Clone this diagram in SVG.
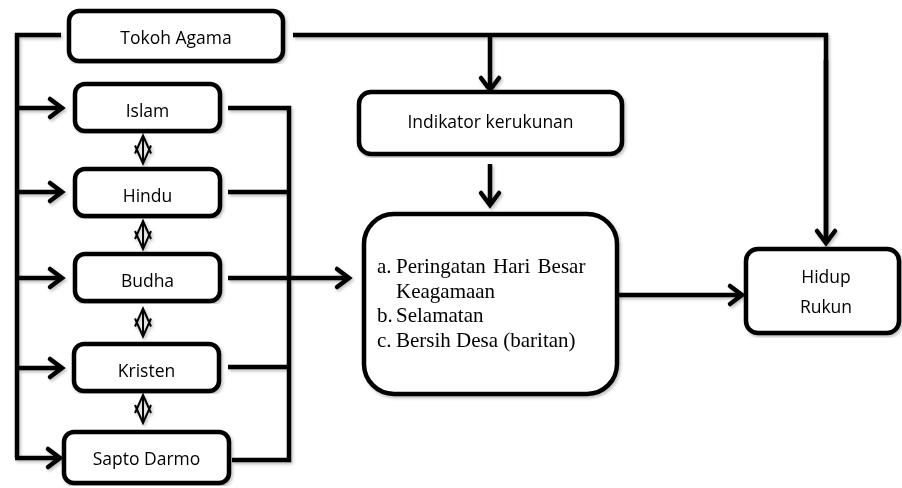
<svg xmlns="http://www.w3.org/2000/svg" width="902" height="488" viewBox="0 0 902 488">
  <defs>
    <style>
      .box { fill: #ffffff; stroke: #000000; stroke-width: 4.5; }
      .line { fill: none; stroke: #000000; stroke-width: 4.5; stroke-linecap: butt; stroke-linejoin: miter; }
      .arrow { marker-end: url(#head); }
      .lbl { font-family: "Open Sans", "Noto Sans", "Liberation Sans", sans-serif; font-size: 17.5px; fill: #000000; text-anchor: middle; }
      .serif { font-family: "Liberation Serif", "Times New Roman", serif; font-size: 21px; fill: #000000; }
      .dbl { fill: none; stroke: #000000; stroke-width: 2; stroke-linejoin: miter; }
    </style>
    <!-- open chevron arrowhead -->
    <marker id="head" markerUnits="userSpaceOnUse" viewBox="0 0 18 24" markerWidth="18" markerHeight="24" refX="15" refY="12" orient="auto" overflow="visible">
      <path d="M3,3 L15,12 L3,21" fill="none" stroke="#000000" stroke-width="4.5" stroke-linecap="round" stroke-linejoin="miter"/>
    </marker>
    <!-- two-way arrow between religions -->
    <g id="twoway">
      <path class="dbl" d="M0,-14 L0,14 M-8,4 L0,-14 L8,4 M-8,-4 L0,14 L8,-4"/>
    </g>
    <filter id="soft" x="-5%" y="-5%" width="110%" height="110%">
      <feDropShadow dx="1.5" dy="2" stdDeviation="1.5" flood-color="#000000" flood-opacity="0.25"/>
    </filter>
  </defs>

  <rect width="902" height="488" fill="#ffffff"/>

  <!-- connectors -->
  <g id="connectors" filter="url(#soft)">
    <!-- Tokoh Agama to each religion -->
    <path class="line" d="M61,35 H17 V458"/>
    <path class="line arrow" d="M17,108 H62"/>
    <path class="line arrow" d="M17,192 H62"/>
    <path class="line arrow" d="M17,278 H62"/>
    <path class="line arrow" d="M17,368 H62"/>
    <path class="line arrow" d="M15,458 H60"/>
    <!-- religions gathered to the activity list -->
    <path class="line" d="M228,108 H289 V460 H232"/>
    <path class="line" d="M228,192 H289"/>
    <path class="line" d="M228,367 H289"/>
    <path class="line arrow" d="M228,278 H349"/>
    <!-- Tokoh Agama to the indicator and to Hidup Rukun -->
    <path class="line" d="M293,35 H826 V242"/>
    <path class="line arrow" d="M826,60 V243"/>
    <path class="line arrow" d="M490,35 V90"/>
    <path class="line arrow" d="M490,164 V205"/>
    <path class="line arrow" d="M618,295 H742"/>
    <!-- two-way links between neighbouring religions -->
    <use href="#twoway" x="143" y="149.5"/>
    <use href="#twoway" x="143" y="235"/>
    <use href="#twoway" x="143" y="322.5"/>
    <use href="#twoway" x="143" y="409"/>
  </g>

  <!-- nodes -->
  <g id="tokoh-agama" filter="url(#soft)">
    <rect class="box" x="69" y="11" width="214" height="50" rx="10"/>
    <text class="lbl" x="176" y="44">Tokoh Agama</text>
  </g>
  <g id="islam" filter="url(#soft)">
    <rect class="box" x="75" y="84" width="145" height="47" rx="10"/>
    <text class="lbl" x="147.5" y="117">Islam</text>
  </g>
  <g id="hindu" filter="url(#soft)">
    <rect class="box" x="75" y="169" width="145" height="47" rx="10"/>
    <text class="lbl" x="147.5" y="202">Hindu</text>
  </g>
  <g id="budha" filter="url(#soft)">
    <rect class="box" x="75" y="254" width="145" height="47" rx="10"/>
    <text class="lbl" x="147.5" y="287">Budha</text>
  </g>
  <g id="kristen" filter="url(#soft)">
    <rect class="box" x="74" y="344" width="145" height="47" rx="10"/>
    <text class="lbl" x="146.5" y="377">Kristen</text>
  </g>
  <g id="sapto-darmo" filter="url(#soft)">
    <rect class="box" x="64" y="432" width="165" height="51" rx="10"/>
    <text class="lbl" x="146.5" y="465">Sapto Darmo</text>
  </g>
  <g id="indikator" filter="url(#soft)">
    <rect class="box" x="359" y="92" width="263" height="62" rx="12"/>
    <text class="lbl" x="490.5" y="128">Indikator kerukunan</text>
  </g>
  <g id="kegiatan" filter="url(#soft)">
    <rect class="box" x="364" y="214" width="253" height="180" rx="30"/>
    <text class="serif" x="377" y="273">a.</text>
    <text class="serif" x="396" y="273" word-spacing="2">Peringatan Hari Besar</text>
    <text class="serif" x="396" y="298">Keagamaan</text>
    <text class="serif" x="377" y="322">b.</text>
    <text class="serif" x="396" y="322">Selamatan</text>
    <text class="serif" x="377" y="347">c.</text>
    <text class="serif" x="396" y="347">Bersih Desa (baritan)</text>
  </g>
  <g id="hidup-rukun" filter="url(#soft)">
    <rect class="box" x="746" y="249" width="153" height="84" rx="12"/>
    <text class="lbl" x="826" y="283">Hidup</text>
    <text class="lbl" x="826" y="313">Rukun</text>
  </g>
</svg>
